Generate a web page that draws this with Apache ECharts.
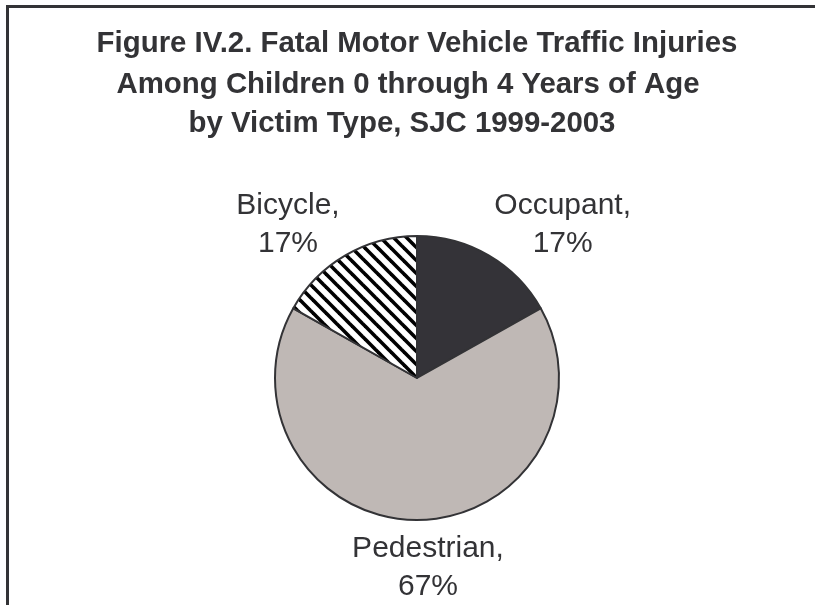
<!DOCTYPE html>
<html>
<head>
<meta charset="utf-8">
<script src="https://cdn.jsdelivr.net/npm/echarts@6/dist/echarts.min.js"></script>
<style>
  html, body { margin: 0; background: #fff; }
  #chart { width: 815px; height: 605px; }
</style>
</head>
<body>
<div id="chart"></div>
<script>
// data
const victimTypes = ['Occupant', 'Pedestrian', 'Bicycle'];
const victimShares = [17, 67, 17];
const titleLines = [
    'Figure IV.2. Fatal Motor Vehicle Traffic Injuries',
    'Among Children 0 through 4 Years of Age',
    'by Victim Type, SJC 1999-2003'
];

const FONT = "'Liberation Sans', Arial, sans-serif";
const INK = '#333336';

// diagonal hatch for the bicycle slice
function hatch() {
    const s = 13;
    const c = document.createElement('canvas');
    c.width = s;
    c.height = s;
    const ctx = c.getContext('2d');
    ctx.fillStyle = '#fff';
    ctx.fillRect(0, 0, s, s);
    ctx.strokeStyle = '#000';
    ctx.lineWidth = 3.6;
    for (const o of [-s, 0, s]) {
        ctx.beginPath();
        ctx.moveTo(o - 2, -2);
        ctx.lineTo(o + s + 2, s + 2);
        ctx.stroke();
    }
    return c;
}

const fills = ['#343338', '#bfb8b5', { image: hatch(), repeat: 'repeat' }];

// title line placement (centres differ a little in the original)
const titleX = [417, 408, 402];
const titleTop = [29, 70, 109];

const chart = echarts.init(document.getElementById('chart'), null, { renderer: 'canvas' });

chart.setOption({
    animation: false,
    backgroundColor: '#fff',
    title: titleLines.map(function (t, i) {
        return {
            text: t,
            left: titleX[i],
            top: titleTop[i],
            textAlign: 'center',
            padding: 0,
            textStyle: { fontFamily: FONT, fontSize: 29.4, fontWeight: 'bold', color: INK, lineHeight: 29 }
        };
    }),
    graphic: [{
        type: 'polyline',
        silent: true,
        shape: { points: [[7.5, 605], [7.5, 6.5], [815, 6.5]] },
        style: { stroke: INK, lineWidth: 3, fill: null }
    }],
    series: [{
        type: 'pie',
        center: [417, 378],
        radius: 142,
        startAngle: 90,
        clockwise: true,
        avoidLabelOverlap: false,
        emphasis: { disabled: true },
        itemStyle: { borderColor: INK, borderWidth: 2 },
        label: {
            show: true,
            position: 'outside',
            formatter: '{b},\n{c}%',
            fontFamily: FONT,
            fontSize: 30,
            lineHeight: 38,
            color: INK,
            distanceToLabelLine: 0
        },
        labelLine: { show: true, length: 35, length2: -12, lineStyle: { opacity: 0 } },
        labelLayout: function (p) {
            const pts = p.labelLinePoints;
            const r = p.labelRect;
            const upright = pts && Math.abs(pts[1][0] - pts[0][0]) < 1;
            return {
                x: upright ? pts[1][0] + 11 : r.x + r.width / 2,
                y: r.y + r.height / 2,
                align: 'center',
                verticalAlign: 'middle'
            };
        },
        data: victimTypes.map(function (name, i) {
            const item = { name: name, value: victimShares[i], itemStyle: { color: fills[i] } };
            if (name === 'Pedestrian') item.labelLine = { length: 48 };
            return item;
        })
    }]
});
</script>
</body>
</html>
